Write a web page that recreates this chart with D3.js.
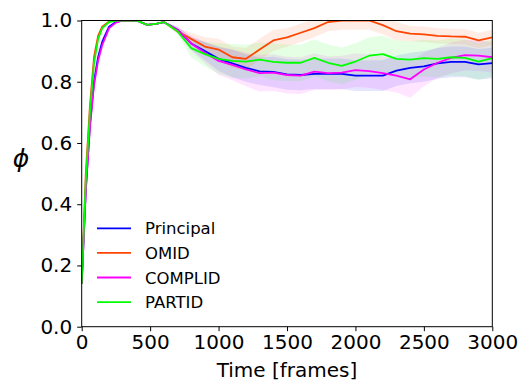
<!DOCTYPE html>
<html>
<head>
<meta charset="utf-8">
<script src="https://cdn.jsdelivr.net/npm/d3@7"></script>
<style>
  body { margin: 0; background: #fff; }
  svg { font-family: "DejaVu Sans", sans-serif; }
</style>
</head>
<body>
<div id="chart"></div>
<script>
var frames = [0, 30, 60, 90, 120, 150, 200, 250, 300, 400, 480, 550, 600,
    700, 800, 900, 1000, 1100, 1200, 1300, 1400, 1500, 1600, 1700, 1800, 1900,
    2000, 2100, 2200, 2300, 2400, 2500, 2600, 2700, 2800, 2900, 3000];

var principal = [0.14, 0.45, 0.66, 0.80, 0.88, 0.93, 0.98, 0.995, 1.0, 1.0, 0.986, 0.99, 0.995,
    0.97, 0.925, 0.90, 0.875, 0.86, 0.845, 0.834, 0.832, 0.824, 0.822, 0.826, 0.826, 0.826,
    0.82, 0.82, 0.82, 0.836, 0.845, 0.85, 0.86, 0.865, 0.865, 0.857, 0.861];
var omid = [0.14, 0.50, 0.72, 0.88, 0.95, 0.98, 0.997, 1.0, 1.0, 1.0, 0.986, 0.99, 0.995,
    0.965, 0.94, 0.915, 0.905, 0.88, 0.875, 0.905, 0.935, 0.945, 0.96, 0.975, 0.995, 1.0,
    1.0, 1.0, 0.985, 0.965, 0.957, 0.955, 0.95, 0.948, 0.947, 0.935, 0.945];
var complid = [0.14, 0.44, 0.65, 0.79, 0.87, 0.92, 0.975, 0.993, 1.0, 1.0, 0.986, 0.99, 0.995,
    0.97, 0.925, 0.895, 0.868, 0.855, 0.84, 0.828, 0.83, 0.822, 0.82, 0.833, 0.828, 0.83,
    0.838, 0.835, 0.828, 0.82, 0.808, 0.84, 0.862, 0.878, 0.887, 0.885, 0.88];
var partid = [0.14, 0.48, 0.70, 0.86, 0.94, 0.975, 0.995, 1.0, 1.0, 1.0, 0.986, 0.99, 0.995,
    0.965, 0.91, 0.89, 0.875, 0.868, 0.866, 0.872, 0.865, 0.862, 0.862, 0.878, 0.862, 0.852,
    0.866, 0.885, 0.89, 0.875, 0.872, 0.877, 0.875, 0.88, 0.878, 0.866, 0.877];

// standard deviations (shaded bands)
var principalStd = [0, 0.03, 0.04, 0.03, 0.02, 0.015, 0.005, 0, 0, 0, 0, 0, 0,
    0.01, 0.02, 0.03, 0.04, 0.045, 0.045, 0.045, 0.05, 0.05, 0.05, 0.05, 0.05, 0.05,
    0.05, 0.05, 0.05, 0.05, 0.05, 0.05, 0.05, 0.05, 0.05, 0.05, 0.05];
var omidStd = [0, 0.02, 0.02, 0.02, 0.01, 0.005, 0, 0, 0, 0, 0, 0, 0,
    0.01, 0.02, 0.03, 0.035, 0.035, 0.035, 0.035, 0.035, 0.03, 0.03, 0.03, 0.03, 0.03,
    0.03, 0.03, 0.03, 0.03, 0.025, 0.025, 0.025, 0.025, 0.025, 0.025, 0.025];
var complidStd = [0, 0.03, 0.04, 0.03, 0.02, 0.015, 0.005, 0, 0, 0, 0, 0, 0,
    0.01, 0.025, 0.035, 0.045, 0.05, 0.055, 0.06, 0.06, 0.06, 0.06, 0.06, 0.055, 0.055,
    0.055, 0.055, 0.055, 0.055, 0.06, 0.055, 0.05, 0.05, 0.05, 0.05, 0.05];
var partidStd = [0, 0.02, 0.02, 0.02, 0.01, 0.005, 0, 0, 0, 0, 0, 0, 0,
    0.01, 0.03, 0.04, 0.05, 0.055, 0.055, 0.055, 0.06, 0.06, 0.06, 0.06, 0.06, 0.06,
    0.06, 0.06, 0.06, 0.06, 0.06, 0.06, 0.06, 0.06, 0.06, 0.06, 0.06];

var seriesNames = ['Principal', 'OMID', 'COMPLID', 'PARTID'];
var seriesColors = ['#0000ff', '#ff4500', '#ff00ff', '#00ff00'];
var xTicks = [0, 500, 1000, 1500, 2000, 2500, 3000];
var yTicks = [0.0, 0.2, 0.4, 0.6, 0.8, 1.0];

var series = [
    { name: seriesNames[0], color: seriesColors[0], mean: principal, std: principalStd },
    { name: seriesNames[1], color: seriesColors[1], mean: omid, std: omidStd },
    { name: seriesNames[2], color: seriesColors[2], mean: complid, std: complidStd },
    { name: seriesNames[3], color: seriesColors[3], mean: partid, std: partidStd }
];

var W = 523, H = 383,
    margin = { top: 20.5, right: 30.7, bottom: 56.3, left: 81.7 },
    width = W - margin.left - margin.right,
    height = H - margin.top - margin.bottom;

var xScale = d3.scaleLinear().domain([0, 3000]).range([0, width]);
var yScale = d3.scaleLinear().domain([0, 1]).range([height, 0]);

var svg = d3.select('#chart').append('svg')
    .attr('width', W)
    .attr('height', H);

svg.append('defs').append('clipPath')
    .attr('id', 'plotclip')
    .append('rect')
    .attr('width', width)
    .attr('height', height);

var chart = svg.append('g')
    .attr('transform', 'translate(' + margin.left + ',' + margin.top + ')');

var plot = chart.append('g').attr('clip-path', 'url(#plotclip)');

var area = d3.area()
    .x(function(d) { return xScale(d.t); })
    .y0(function(d) { return yScale(d.m - d.s); })
    .y1(function(d) { return yScale(d.m + d.s); });

var line = d3.line()
    .x(function(d) { return xScale(d.t); })
    .y(function(d) { return yScale(d.m); });

series.forEach(function(s) {
    s.pts = frames.map(function(t, i) { return { t: t, m: s.mean[i], s: s.std[i] }; });
});

plot.selectAll('path.band').data(series)
    .enter().append('path')
    .attr('class', 'band')
    .attr('d', function(d) { return area(d.pts); })
    .style('fill', function(d) { return d.color; })
    .style('opacity', 0.1)
    .style('stroke', 'none');

plot.selectAll('path.line').data(series)
    .enter().append('path')
    .attr('class', 'line')
    .attr('d', function(d) { return line(d.pts); })
    .style('fill', 'none')
    .style('stroke', function(d) { return d.color; })
    .style('stroke-width', 1.8)
    .style('stroke-linejoin', 'round');

// axes
var xAxis = d3.axisBottom(xScale).tickValues(xTicks).tickSize(4.5).tickPadding(4)
    .tickFormat(d3.format('d'));
var yAxis = d3.axisLeft(yScale).tickValues(yTicks).tickSize(4.5).tickPadding(5)
    .tickFormat(d3.format('.1f'));

var xGuide = chart.append('g')
    .attr('transform', 'translate(0,' + height + ')')
    .call(xAxis);
var yGuide = chart.append('g').call(yAxis);

[xGuide, yGuide].forEach(function(g) {
    g.select('.domain').remove();
    g.selectAll('.tick line').style('stroke', '#000').style('stroke-width', 1);
    g.selectAll('.tick text')
        .style('font-size', '20px')
        .style('font-family', '"DejaVu Sans", sans-serif')
        .style('fill', '#000');
});

// frame
chart.append('rect')
    .attr('width', width)
    .attr('height', height)
    .style('fill', 'none')
    .style('stroke', '#000')
    .style('stroke-width', 1);

chart.append('text')
    .attr('x', width / 2)
    .attr('y', height + 50)
    .attr('text-anchor', 'middle')
    .style('font-size', '20px')
    .text('Time [frames]');

svg.append('text')
    .attr('x', 21)
    .attr('y', 167)
    .attr('text-anchor', 'middle')
    .style('font-size', '25px')
    .style('font-style', 'italic')
    .text('\u03d5');

// legend
var legend = svg.append('g')
    .attr('transform', 'translate(97,228.3)');

var entries = legend.selectAll('g').data(series)
    .enter().append('g')
    .attr('transform', function(d, i) { return 'translate(0,' + (i * 24.6) + ')'; });

entries.append('line')
    .attr('x1', 0).attr('x2', 34)
    .style('stroke', function(d) { return d.color; })
    .style('stroke-width', 1.8);

entries.append('text')
    .attr('x', 48)
    .attr('y', 6)
    .style('font-size', '16.5px')
    .text(function(d) { return d.name; });
</script>
</body>
</html>
